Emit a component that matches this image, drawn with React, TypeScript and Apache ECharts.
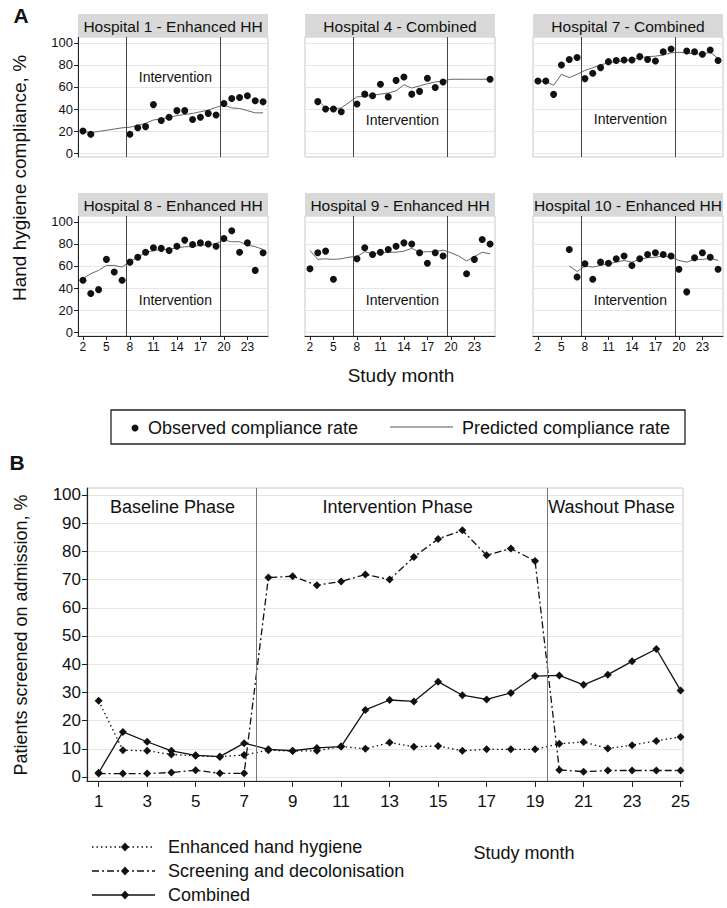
import React, { useEffect, useRef } from 'react';
import * as echarts from 'echarts';

// ---------- Panel A data ----------
const monthsA = [2, 3, 4, 5, 6, 7, 8, 9, 10, 11, 12, 13, 14, 15, 16, 17, 18, 19, 20, 21, 22, 23, 24, 25];
const xTicksA = [2, 5, 8, 11, 14, 17, 20, 23];
const yTicksA = [0, 20, 40, 60, 80, 100];

const h1Obs = [20, 17, null, null, null, null, 17, 23, 24, 44, 29.5, 32.5, 38.5, 38.5, 30.5, 32.5, 36, 34.5, 45, 49.5, 50.5, 52, 47.5, 46.5];
const h1Pred = [19.5, 18.5, 19.6, 20.7, 21.8, 22.9, 23.5, 25, 27, 30, 31, 32.5, 34, 35, 36, 37.5, 39, 41.5, 43.5, 41, 40.5, 38.5, 36.5, 36.5];

const h4Obs = [null, 46.7, 40, 40, 37.5, null, 44.5, 53.5, 52, 62.5, 51, 66, 69, 53.5, 56, 68, 59.5, 64.5, null, null, null, null, null, 67];
const h4Pred = [null, 48, 41, 40, 41, 46, 51, 51.5, 52.5, 53.5, 54.5, 56.5, 62, 59, 61, 63, 64.5, 65.5, 67, 67, 67, 67, 67, 67];

const h7Obs = [65.5, 65.5, 53.3, 80, 85, 86.7, 67.6, 72.4, 77.6, 83, 84, 84.5, 84.5, 87.6, 85, 83.6, 92, 94.5, null, 92.7, 92, 89.7, 93.6, 84];
const h7Pred = [65.5, 65, 61.5, 71.5, 68.5, 71.5, 75, 77.5, 80, 82, 83, 83.5, 85, 86.5, 87.5, 88, 89, 91, 91.5, 91, 90, 90, 91.5, 86];

const h8Obs = [47, 35, 38.5, 66, 54.5, 47, 63.5, 68, 72.5, 76.5, 76, 74, 78, 83.5, 79.5, 81, 80, 78, 85, 92, 72.5, 81, 56, 72];
const h8Pred = [48.5, 53, 56, 60.5, 60.5, 59, 64, 68, 72, 74, 75, 75, 76.5, 77.5, 77.5, 79, 79, 80.5, 83.5, 82, 82, 79, 77.5, 75];

const h9Obs = [57.5, 72, 73.5, 48, null, null, 66.5, 76.5, 70.5, 72.5, 75, 78, 81, 80, 72, 62.5, 72, 69, null, null, 53, 66, 84, 80];
const h9Pred = [74, 66, 66.5, 66, 66.5, 68, 68.5, 73, 71, 72, 72.5, 72.5, 73.5, 76, 72.5, 73, 73, 74.5, 72, 69, 64.5, 68.5, 72.5, 71];

const h10Obs = [null, null, null, null, 75, 50, 62, 48, 63.5, 62.5, 66.5, 69, 60.5, 66.5, 70.5, 72, 70.5, 69, 57, 36.5, 67.5, 72, 68, 57];
const h10Pred = [null, null, null, null, 60, 55, 60, 59, 60.5, 62, 63.5, 65, 63.5, 66, 67.5, 68, 69, 68, 65, 63.5, 66, 66, 67, 65];

const hospitalTitles = [
  'Hospital 1 - Enhanced HH',
  'Hospital 4 - Combined',
  'Hospital 7 - Combined',
  'Hospital 8 - Enhanced HH',
  'Hospital 9 - Enhanced HH',
  'Hospital 10 - Enhanced HH',
];
const hospitalObs = [h1Obs, h4Obs, h7Obs, h8Obs, h9Obs, h10Obs];
const hospitalPred = [h1Pred, h4Pred, h7Pred, h8Pred, h9Pred, h10Pred];
const interventionTextY = [69, 30, 31, 29, 29, 29];

// ---------- Panel B data ----------
const monthsB = [1, 2, 3, 4, 5, 6, 7, 8, 9, 10, 11, 12, 13, 14, 15, 16, 17, 18, 19, 20, 21, 22, 23, 24, 25];
const xTicksB = [1, 3, 5, 7, 9, 11, 13, 15, 17, 19, 21, 23, 25];
const yTicksB = [0, 10, 20, 30, 40, 50, 60, 70, 80, 90, 100];
const enhancedHH = [27, 9.5, 9.3, 8, 7.5, 7.2, 7.8, 9.5, 9.2, 9.3, 10.8, 10, 12.2, 10.7, 11, 9.3, 9.8, 9.8, 9.8, 11.8, 12.4, 10.1, 11.3, 12.8, 14.2];
const screening = [1.2, 1.2, 1.2, 1.6, 2.4, 1.3, 1.3, 70.7, 71.2, 68, 69.3, 71.8, 70, 78, 84.4, 87.5, 78.6, 81, 76.6, 2.5, 1.9, 2.3, 2.3, 2.3, 2.3];
const combined = [1.5, 16, 12.5, 9.3, 7.7, 7.2, 12, 9.8, 9.3, 10.3, 10.8, 23.8, 27.3, 26.8, 33.8, 29, 27.5, 29.8, 35.8, 36, 32.7, 36.3, 41, 45.4, 30.7];
const phaseNames = ['Baseline Phase', 'Intervention Phase', 'Washout Phase'];
const phaseX = [4.05, 13.33, 22.15];
const phaseBounds = [7.5, 19.5];

const FONT = "'Liberation Sans', Arial, Helvetica, sans-serif";
const INK = '#111';

const pairs = (xs: number[], ys: (number | null)[]) =>
  xs.map((x, i) => (ys[i] == null ? null : [x, ys[i]])).filter((p) => p !== null);

function buildOption() {
  const colLeft = [78, 305, 533];
  const rowTop = [37, 216];
  const pw = 190;
  const ph = 120;
  const stripH = 23;

  const grid: any[] = [];
  const xAxis: any[] = [];
  const yAxis: any[] = [];
  const series: any[] = [];
  const elements: any[] = [];

  hospitalTitles.forEach((title, i) => {
    const r = Math.floor(i / 3);
    const c = i % 3;
    grid.push({
      left: colLeft[c], top: rowTop[r], width: pw, height: ph,
      show: true, borderColor: '#c8c8c8', borderWidth: 1, backgroundColor: '#fff',
    });
    xAxis.push({
      gridIndex: i, type: 'value', min: 1.37, max: 25.63,
      axisLine: { show: r === 1, onZero: false, lineStyle: { color: '#222', width: 1 } },
      axisTick: { show: r === 1, customValues: xTicksA, length: 4, lineStyle: { color: '#222' } },
      axisLabel: { show: r === 1, customValues: xTicksA, fontSize: 12, color: INK, margin: 5, fontFamily: FONT },
      splitLine: { show: false },
    });
    yAxis.push({
      gridIndex: i, type: 'value', min: -3.6, max: 105.4,
      axisLine: { show: c === 0, onZero: false, lineStyle: { color: '#222', width: 1 } },
      axisTick: { show: c === 0, customValues: yTicksA, length: 4, lineStyle: { color: '#222' } },
      axisLabel: { show: c === 0, customValues: yTicksA, fontSize: 13, color: INK, margin: 5, fontFamily: FONT },
      splitLine: { show: true, lineStyle: { color: '#e6e6e6', width: 1 } },
    });
    series.push({
      type: 'line', xAxisIndex: i, yAxisIndex: i,
      data: pairs(monthsA, hospitalPred[i]),
      showSymbol: false, symbol: 'none',
      lineStyle: { color: '#666', width: 1 },
      z: 2,
      markLine: {
        silent: true, symbol: ['none', 'none'],
        lineStyle: { color: '#444', width: 1, type: 'solid' },
        label: { show: false },
        data: phaseBounds.map((v) => ({ xAxis: v })),
      },
      markPoint: {
        silent: true,
        symbol: 'circle', symbolSize: 1,
        itemStyle: { color: 'rgba(0,0,0,0)' },
        label: { show: true, position: 'inside', formatter: 'Intervention', fontSize: 14, color: INK, fontFamily: FONT },
        data: [{ coord: [13.8, interventionTextY[i]] }],
      },
    });
    series.push({
      type: 'scatter', xAxisIndex: i, yAxisIndex: i,
      data: pairs(monthsA, hospitalObs[i]),
      symbol: 'circle', symbolSize: 7,
      itemStyle: { color: INK, opacity: 1 },
      z: 3,
    });
    // title strip
    elements.push({
      type: 'rect', shape: { x: colLeft[c], y: rowTop[r] - stripH, width: pw, height: stripH },
      style: { fill: '#d9d9d9' }, z: 10,
    });
    elements.push({
      type: 'text', x: colLeft[c] + pw / 2, y: rowTop[r] - stripH / 2 + 0.5, z: 11,
      style: { text: title, fontSize: 15.5, fontFamily: FONT, fill: INK, textAlign: 'center', textVerticalAlign: 'middle' },
    });
  });

  // Panel B grid
  const bi = 6;
  grid.push({
    left: 87, top: 488, width: 596, height: 293,
    show: true, borderColor: '#c8c8c8', borderWidth: 1, backgroundColor: '#fff',
  });
  xAxis.push({
    gridIndex: bi, type: 'value', min: 0.52, max: 25.1,
    axisLine: { show: true, onZero: false, lineStyle: { color: '#222', width: 1.2 } },
    axisTick: { show: true, customValues: xTicksB, length: 6, lineStyle: { color: '#222' } },
    axisLabel: { show: true, customValues: xTicksB, fontSize: 17, color: INK, margin: 12, fontFamily: FONT },
    splitLine: { show: false },
  });
  yAxis.push({
    gridIndex: bi, type: 'value', min: -1.42, max: 102.48,
    axisLine: { show: true, onZero: false, lineStyle: { color: '#222', width: 1.2 } },
    axisTick: { show: true, customValues: yTicksB, length: 5, lineStyle: { color: '#222' } },
    axisLabel: { show: true, customValues: yTicksB, fontSize: 17, color: INK, margin: 6, fontFamily: FONT },
    splitLine: { show: true, lineStyle: { color: '#e6e6e6', width: 1 } },
  });
  const bSeries = [
    { name: 'Enhanced hand hygiene', data: enhancedHH, dash: [1.5, 3] as any },
    { name: 'Screening and decolonisation', data: screening, dash: [7, 3, 2, 3] as any },
    { name: 'Combined', data: combined, dash: 'solid' as any },
  ];
  bSeries.forEach((s, k) => {
    const ser: any = {
      type: 'line', name: s.name, xAxisIndex: bi, yAxisIndex: bi,
      data: pairs(monthsB, s.data),
      symbol: 'diamond', symbolSize: 8, showSymbol: true,
      itemStyle: { color: INK, opacity: 1 },
      lineStyle: { color: INK, width: 1.3, type: s.dash },
      z: 3,
    };
    if (k === 2) {
      ser.markLine = {
        silent: true, symbol: ['none', 'none'],
        lineStyle: { color: '#777', width: 1, type: 'solid' },
        label: { show: false },
        data: phaseBounds.map((v) => ({ xAxis: v })),
      };
      ser.markPoint = {
        silent: true, symbol: 'circle', symbolSize: 1,
        itemStyle: { color: 'rgba(0,0,0,0)' },
        label: { show: true, position: 'inside', formatter: (p: any) => p.name, fontSize: 18, color: INK, fontFamily: FONT },
        data: phaseNames.map((n, j) => ({ name: n, coord: [phaseX[j], 95.7] })),
      };
    }
    series.push(ser);
  });

  // Labels
  elements.push({ type: 'text', x: 21, y: 15, style: { text: 'A', fontSize: 21, fontWeight: 'bold', fontFamily: FONT, fill: INK, textAlign: 'center', textVerticalAlign: 'middle' } });
  elements.push({ type: 'text', x: 17, y: 462, style: { text: 'B', fontSize: 21, fontWeight: 'bold', fontFamily: FONT, fill: INK, textAlign: 'center', textVerticalAlign: 'middle' } });
  elements.push({ type: 'text', x: 19, y: 178, rotation: Math.PI / 2, style: { text: 'Hand hygiene compliance, %', fontSize: 19, fontFamily: FONT, fill: INK, textAlign: 'center', textVerticalAlign: 'middle' } });
  elements.push({ type: 'text', x: 401, y: 375, style: { text: 'Study month', fontSize: 19, fontFamily: FONT, fill: INK, textAlign: 'center', textVerticalAlign: 'middle' } });
  elements.push({ type: 'text', x: 21, y: 635, rotation: Math.PI / 2, style: { text: 'Patients screened on admission, %', fontSize: 18, fontFamily: FONT, fill: INK, textAlign: 'center', textVerticalAlign: 'middle' } });
  elements.push({ type: 'text', x: 524, y: 853, style: { text: 'Study month', fontSize: 18, fontFamily: FONT, fill: INK, textAlign: 'center', textVerticalAlign: 'middle' } });

  // Legend A
  elements.push({ type: 'rect', shape: { x: 111, y: 410, width: 574, height: 34 }, style: { fill: '#fff', stroke: '#222', lineWidth: 1.3 } });
  elements.push({ type: 'circle', shape: { cx: 135, cy: 428, r: 3.5 }, style: { fill: INK } });
  elements.push({ type: 'text', x: 148, y: 428, style: { text: 'Observed compliance rate', fontSize: 18, fontFamily: FONT, fill: INK, textVerticalAlign: 'middle' } });
  elements.push({ type: 'line', shape: { x1: 390, y1: 427, x2: 453, y2: 427 }, style: { stroke: '#555', lineWidth: 1 } });
  elements.push({ type: 'text', x: 462, y: 428, style: { text: 'Predicted compliance rate', fontSize: 18, fontFamily: FONT, fill: INK, textVerticalAlign: 'middle' } });

  // Legend B
  const legendY = [847, 871, 895];
  bSeries.forEach((s, k) => {
    const y = legendY[k];
    elements.push({
      type: 'line', shape: { x1: 92, y1: y, x2: 155, y2: y },
      style: { stroke: INK, lineWidth: 1.3, lineDash: s.dash === 'solid' ? null : s.dash },
    });
    elements.push({
      type: 'polygon', shape: { points: [[125, y - 4.5], [129, y], [125, y + 4.5], [121, y]] },
      style: { fill: INK },
    });
    elements.push({ type: 'text', x: 168, y: y, style: { text: s.name, fontSize: 18, fontFamily: FONT, fill: INK, textVerticalAlign: 'middle' } });
  });

  return {
    animation: false,
    backgroundColor: '#fff',
    textStyle: { fontFamily: FONT },
    grid, xAxis, yAxis, series,
    graphic: { elements },
  };
}

export default function App() {
  const ref = useRef<HTMLDivElement>(null);
  useEffect(() => {
    if (!ref.current) return;
    const chart = echarts.init(ref.current, undefined, { renderer: 'svg' });
    chart.setOption(buildOption() as any);
    return () => chart.dispose();
  }, []);
  return <div ref={ref} style={{ position: 'absolute', left: 0, top: 0, width: 727, height: 908 }} />;
}
